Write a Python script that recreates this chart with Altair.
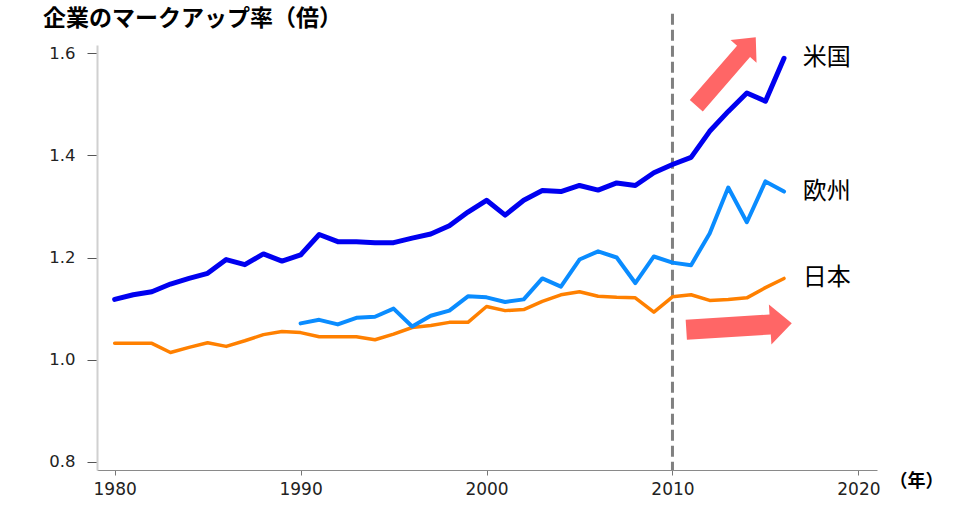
import altair as alt
import pandas as pd

# ---------------- data ----------------
years_us = list(range(1980, 2017))
us = [1.118, 1.127, 1.133, 1.148, 1.159, 1.169, 1.196, 1.186, 1.207, 1.193,
      1.205, 1.245, 1.231, 1.231, 1.229, 1.229, 1.238, 1.246, 1.262, 1.289,
      1.312, 1.283, 1.312, 1.331, 1.329, 1.341, 1.332, 1.346, 1.341, 1.366,
      1.382, 1.396, 1.447, 1.486, 1.522, 1.506, 1.590]

years_eu = list(range(1990, 2017))
eu = [1.071, 1.078, 1.069, 1.082, 1.084, 1.100, 1.065, 1.086, 1.096, 1.124,
      1.122, 1.113, 1.118, 1.159, 1.143, 1.196, 1.212, 1.200, 1.150, 1.202,
      1.190, 1.185, 1.247, 1.337, 1.269, 1.349, 1.329]

years_jp = list(range(1980, 2017))
jp = [1.032, 1.032, 1.032, 1.014, 1.024, 1.033, 1.026, 1.037, 1.049, 1.055,
      1.053, 1.045, 1.045, 1.045, 1.039, 1.050, 1.063, 1.067, 1.073, 1.073,
      1.104, 1.096, 1.098, 1.114, 1.127, 1.133, 1.124, 1.122, 1.121, 1.093,
      1.123, 1.127, 1.116, 1.118, 1.121, 1.141, 1.159]

series_names = ["米国", "欧州", "日本"]
series_colors = ["#0000f0", "#0a8cff", "#ff8000"]
series_widths = [5, 4, 3.5]

x_ticks = [1980, 1990, 2000, 2010, 2020]
y_ticks = [0.8, 1.0, 1.2, 1.4, 1.6]

divider_year = [2010]
divider_span = [1.677, 0.784]

# annotation arrows: centre (year, value), rotation, symbol area
arrow_year = [2012.88, 2013.58]
arrow_value = [1.564, 1.065]
arrow_angle = [311, 356.4]
arrow_size = [8208, 11172]

label_year = 2017

X_DOMAIN = [1979.05, 2021.0]
Y_DOMAIN = [0.784, 1.616]

FONT_NUM = "DejaVu Sans"
FONT_JP = "Noto Sans CJK JP"

# ---------------- tables ----------------
frames = {
    "米国": pd.DataFrame({"year": years_us, "value": us}),
    "欧州": pd.DataFrame({"year": years_eu, "value": eu}),
    "日本": pd.DataFrame({"year": years_jp, "value": jp}),
}

labels_df = pd.DataFrame({
    "year": [label_year] * 3,
    "value": [us[-1], eu[-1], jp[-1]],
    "name": series_names,
})

rule_df = pd.DataFrame({"year": divider_year, "value": [divider_span[0]],
                        "value2": [divider_span[1]]})

x_enc = alt.X("year:Q",
              scale=alt.Scale(domain=X_DOMAIN, nice=False, zero=False),
              axis=alt.Axis(values=x_ticks, format="d", title="（年）",
                            titleX=792, titleY=11, titleAlign="left",
                            titleBaseline="middle", titleFont=FONT_JP,
                            titleFontSize=18, titleFontWeight="bold",
                            titleColor="#000000",
                            labelFont=FONT_NUM, labelFontSize=17,
                            labelColor="#222222", labelPadding=6,
                            tickSize=5, tickColor="#777777",
                            domainColor="#8a8a8a", domainWidth=1,
                            grid=False))
y_enc = alt.Y("value:Q",
              scale=alt.Scale(domain=Y_DOMAIN, nice=False, zero=False),
              axis=alt.Axis(values=y_ticks, format=".1f", title=None,
                            labelFont=FONT_NUM, labelFontSize=16.5,
                            labelColor="#222222", labelPadding=12,
                            tickSize=10, tickColor="#555555",
                            domainColor="#d0d0d0", domainWidth=2,
                            grid=False))

layers = []

rule = alt.Chart(rule_df).mark_rule(
    color="#808080", strokeWidth=3, strokeDash=[11, 5]
).encode(x=x_enc, y=y_enc, y2="value2:Q")
layers.append(rule)

order = ["日本", "欧州", "米国"]
for name in order:
    i = series_names.index(name)
    layers.append(
        alt.Chart(frames[name]).mark_line(
            color=series_colors[i], strokeWidth=series_widths[i],
            strokeJoin="round", strokeCap="round"
        ).encode(x=x_enc, y=y_enc)
    )

arrow_path = "M-1,-0.19L0.59,-0.19L0.59,-0.38L1,0L0.59,0.38L0.59,0.19L-1,0.19Z"
for k in range(2):
    adf = pd.DataFrame({"year": [arrow_year[k]], "value": [arrow_value[k]]})
    layers.append(
        alt.Chart(adf).mark_point(
            shape=arrow_path, filled=True, fill="#ff6666", opacity=1,
            strokeWidth=0, angle=arrow_angle[k], size=arrow_size[k]
        ).encode(x=x_enc, y=y_enc)
    )

labels = alt.Chart(labels_df).mark_text(
    align="left", baseline="middle", font=FONT_JP, fontSize=24,
    color="#000000"
).encode(x=x_enc, y=y_enc, text="name:N")
layers.append(labels)

chart = alt.layer(*layers).properties(
    width=780, height=425,
    title=alt.TitleParams(
        "企業のマークアップ率（倍）", anchor="start", frame="group",
        dx=-54, dy=32, offset=13, font=FONT_JP, fontSize=23,
        fontWeight="bold", color="#000000"),
    padding={"left": 97, "top": 45, "right": 81, "bottom": 48},
    autosize=alt.AutoSizeParams(type="none"),
    background="#ffffff",
).configure_view(stroke=None)

chart.save("out.html", embed_options={"renderer": "svg", "actions": False})
